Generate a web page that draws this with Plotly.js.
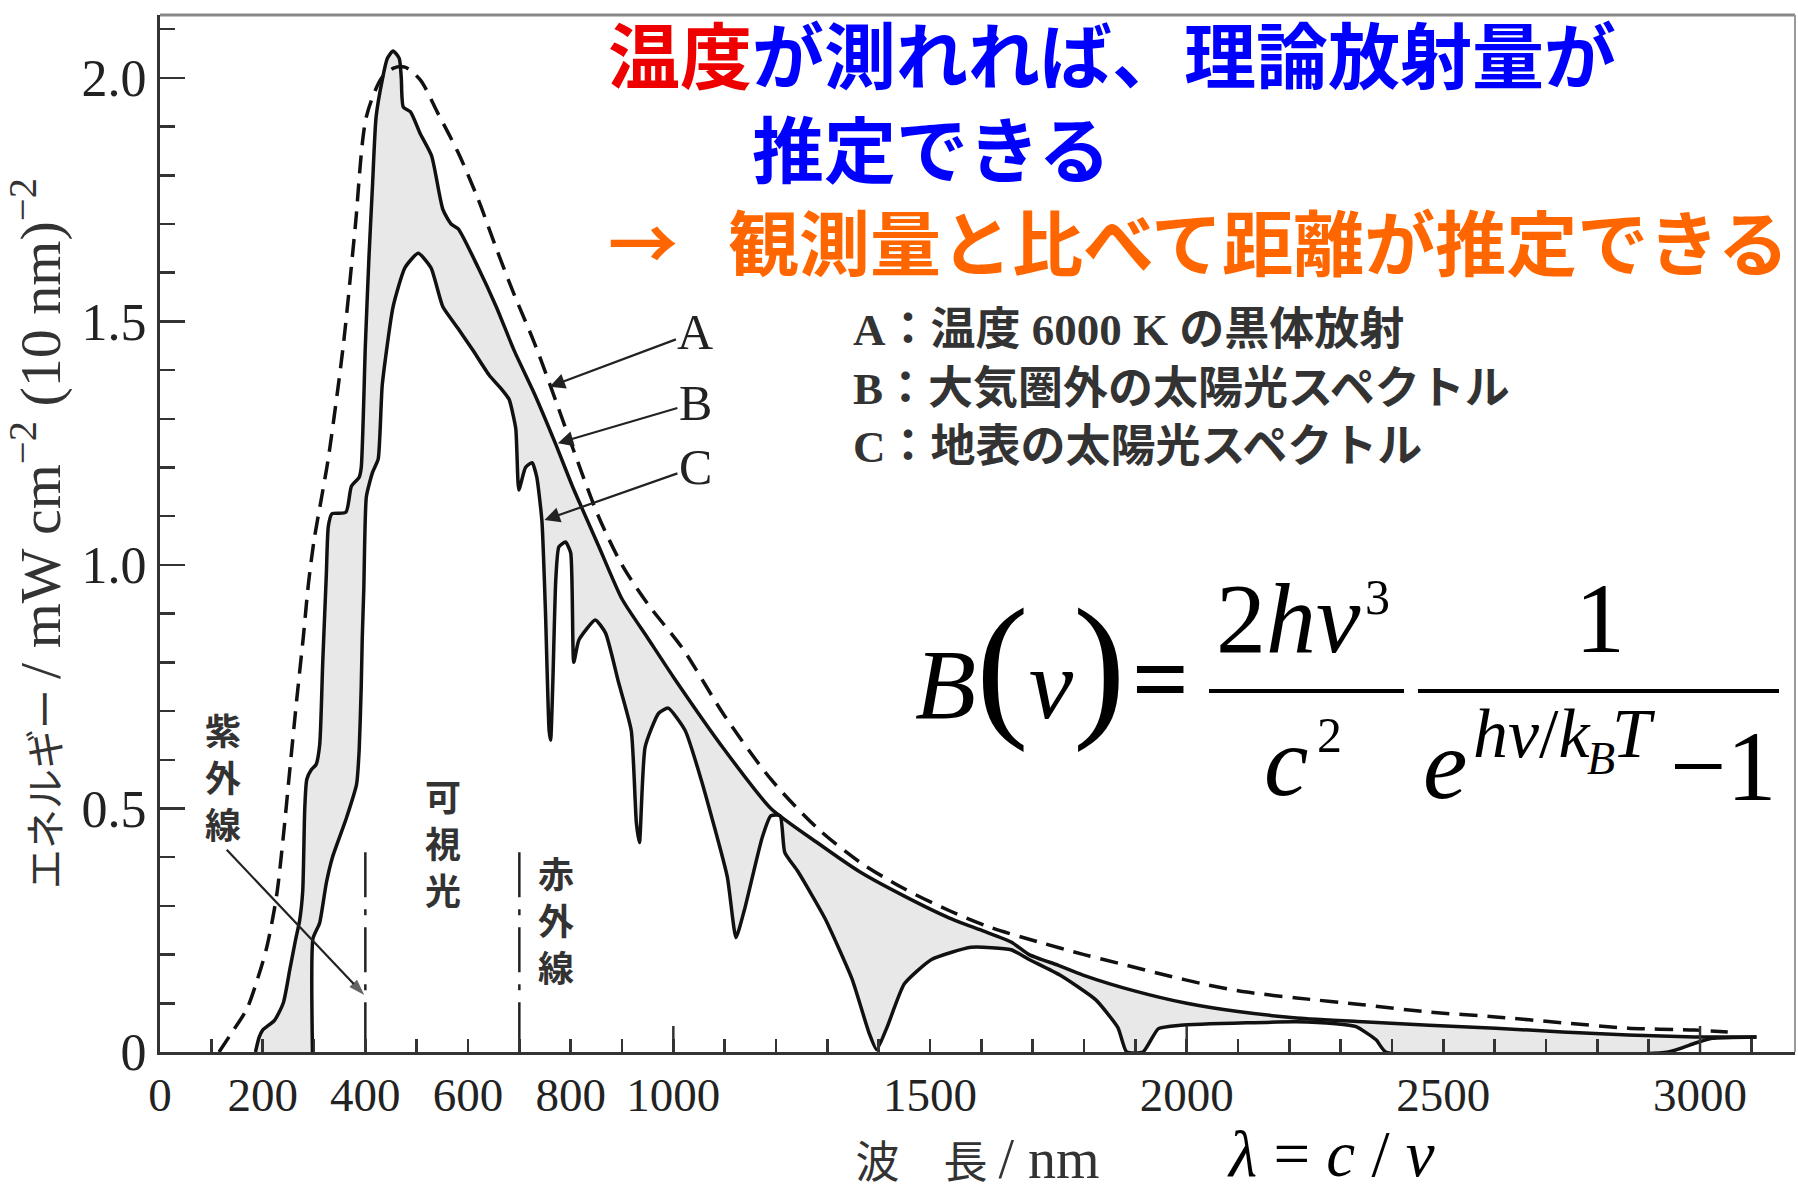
<!DOCTYPE html>
<html><head><meta charset="utf-8">
<script src="https://cdn.plot.ly/plotly-3.0.1.min.js"></script>
<style>html,body{margin:0;padding:0;background:#fff;}#chart{width:1798px;height:1191px;}</style>
</head><body><div id="chart"></div>
<script>
// ---- data ----
// A: 6000 K black body (dashed)
const wlA  = [115,140,169,190,208,227,240,252,266,279,289,300,315,328,357,380,402,432,455,477,507,540,581,620,655,690,730,770,804,854,900,950,1017,1100,1190,1280,1363,1450,1538,1620,1711,1800,1883,1950,2040,2117,2214,2343,2472,2602,2732,2860,2990,3054];
const valA = [0,0.04,0.088,0.15,0.215,0.32,0.44,0.57,0.72,0.85,0.96,1.05,1.14,1.22,1.45,1.69,1.92,2.0,2.02,2.022,1.996,1.93,1.846,1.75,1.65,1.555,1.454,1.34,1.24,1.10,1.0,0.92,0.83,0.69,0.56,0.46,0.39,0.335,0.29,0.255,0.226,0.20,0.178,0.16,0.138,0.123,0.111,0.097,0.082,0.072,0.06,0.049,0.045,0.041];
// B: solar spectrum outside the atmosphere (upper solid)
const wlB  = [186,193,200,223,240,253,264,272,278,282,286,295,304,311,317,324,328,335,362,373,388,392,400,407,414,421,433,443,454,466,470,474,488,507,529,551,567,581,620,655,690,730,770,804,854,900,950,1000,1100,1190,1280,1363,1450,1538,1600,1658,1693,1750,1798,1900,2000,2100,2214,2343,2472,2602,2732,2860,2990,3110];
const valB = [0,0.03,0.045,0.065,0.1,0.17,0.23,0.27,0.33,0.5,0.56,0.58,0.59,0.63,0.8,0.98,1.08,1.105,1.108,1.162,1.18,1.2,1.45,1.63,1.78,1.92,1.996,2.04,2.055,2.04,2.0,1.94,1.93,1.885,1.84,1.73,1.70,1.69,1.61,1.53,1.44,1.35,1.25,1.16,1.04,0.93,0.85,0.77,0.62,0.50,0.43,0.37,0.32,0.275,0.25,0.226,0.20,0.178,0.158,0.125,0.10,0.083,0.07,0.062,0.055,0.049,0.041,0.035,0.031,0.031];
// C: solar spectrum at ground level (lower solid)
const wlC  = [297,298,311,324,336,363,383,388,392,394,397,402,414,425,433,454,477,503,528,551,581,610,641,666,680,693,699,712,725,734,744,751,758,761,765,771,777,790,800,806,816,848,868,893,918,928,934,945,971,990,1023,1054,1105,1122,1138,1173,1190,1208,1217,1243,1295,1348,1381,1396,1416,1450,1503,1580,1658,1693,1753,1823,1866,1883,1915,1945,1988,2117,2214,2290,2330,2369,2388,2938,2990,3023,3110];
const valC = [0,0.233,0.265,0.347,0.40,0.48,0.55,0.62,0.75,0.85,0.95,1.14,1.19,1.217,1.37,1.53,1.61,1.64,1.61,1.53,1.485,1.44,1.39,1.36,1.34,1.28,1.154,1.20,1.21,1.18,1.09,0.90,0.66,0.64,0.75,0.97,1.037,1.047,1.025,0.80,0.846,0.887,0.86,0.76,0.66,0.47,0.43,0.626,0.695,0.706,0.66,0.56,0.36,0.235,0.29,0.44,0.485,0.485,0.41,0.37,0.275,0.15,0.04,0.005,0.05,0.14,0.19,0.215,0.21,0.19,0.158,0.107,0.05,0,0,0.048,0.055,0.06,0.062,0.058,0.052,0.025,0,0,0.018,0.028,0.031];

const xTickVals = [0,200,400,600,800,1000,1500,2000,2500,3000];
const xTickText = ['0','200','400','600','800','1000','1500','2000','2500','3000'];
const longTickVals = [1000,2000,3000];
const yTickVals = [0,0.5,1.0,1.5,2.0];
const yTickText = ['0','0.5','1.0','1.5','2.0'];

const bandBounds = [400,700];          // nm, UV/visible and visible/IR limits
const bandLineY  = [0.01,0.41];
const bandNames  = ['紫外線','可視光','赤外線'];
const bandNameX  = [122,551,771];
const bandNameY  = [0.558,0.423,0.264];
const uvArrowX = [130,398], uvArrowY = [0.415,0.117];

const curveLetters = ['A','B','C'];
const letterPos  = [[1043,1.478],[1043,1.333],[1043,1.201]];
const arrowHeads = [[759,1.366],[775,1.25],[749,1.092]];

const legendLines = ['A：温度 6000 K の黒体放射','B：大気圏外の太陽光スペクトル','C：地表の太陽光スペクトル'];
const headline = [
  '<span style="color:#ee0000">温度</span><span style="color:#0000ff">が測れれば、理論放射量が</span>',
  '<span style="color:#0000ff">　　推定できる</span>',
  '<span style="color:#ff6600;font-size:70px;font-family:\'Noto Sans CJK JP\'">→</span><span style="font-size:50px">　</span><span style="color:#ff6600;font-size:71px">観測量と比べて距離が推定できる</span>'
];

// ---- layout helpers (pixel -> paper) ----
const L=160, R=1795, T=15, BOT=1052;
const PW=R-L, PH=BOT-T;
const px = X => (X-L)/PW, py = Y => (BOT-Y)/PH;
const SERIF = 'Liberation Serif, "Times New Roman", serif';
const MIX = 'Liberation Serif, "Noto Sans CJK JP", serif';
const big = s => '<span style="font-size:' + s + 'px">';

const traces = [
  {x:wlC, y:valC, type:'scatter', mode:'lines', line:{color:'#111', width:3.5, shape:'spline', smoothing:0.5}, hoverinfo:'skip', showlegend:false},
  {x:wlB, y:valB, type:'scatter', mode:'lines', line:{color:'#111', width:3.5, shape:'spline', smoothing:0.6}, fill:'tonexty', fillcolor:'#e8e8e8', hoverinfo:'skip', showlegend:false},
  {x:wlA, y:valA, type:'scatter', mode:'lines', line:{color:'#111', width:3.5, dash:'18px,10px', shape:'spline', smoothing:0.8}, hoverinfo:'skip', showlegend:false}
];
bandBounds.forEach(b => traces.push({x:[b,b], y:bandLineY, type:'scatter', mode:'lines', line:{color:'#222', width:2.5, dash:'45px,12px,6px,12px'}, hoverinfo:'skip', showlegend:false}));
// arrow from the 紫外線 label to the 400 nm boundary
traces.push({x:uvArrowX, y:uvArrowY, type:'scatter', mode:'lines+markers', line:{color:'#222', width:2.2},
  marker:{symbol:['circle','arrow'], size:[0,17], angleref:'previous', color:'#222', line:{width:0}}, hoverinfo:'skip', showlegend:false});

const ann = [];
// headline text (three lines)
ann.push({xref:'paper', yref:'paper', x:px(606), y:py(155), xanchor:'left', yanchor:'middle', align:'left', showarrow:false,
  text:headline.join('<br>'), font:{family:MIX, size:72, weight:700}});
// legend block
ann.push({xref:'paper', yref:'paper', x:px(851), y:py(389), xanchor:'left', yanchor:'middle', align:'left', showarrow:false,
  text:legendLines.join('<br>'), font:{family:MIX, size:45, color:'#333', weight:700}});
// curve letters with arrows
curveLetters.forEach((c,i) => ann.push({x:arrowHeads[i][0], y:arrowHeads[i][1], ax:letterPos[i][0], ay:letterPos[i][1], axref:'x', ayref:'y',
  text:c, showarrow:true, arrowhead:2, arrowsize:1.4, arrowwidth:2.2, arrowcolor:'#222', standoff:0, font:{family:SERIF, size:50, color:'#222'}}));
// band labels (vertical)
bandNames.forEach((n,i) => ann.push({x:bandNameX[i], y:bandNameY[i], showarrow:false,
  text:[...n].join('<br>'), font:{family:MIX, size:36, color:'#333', weight:700}}));
// formula  B(ν) = 2hν³/c² · 1/(e^{hν/k_BT} − 1)
const f = (t, X, base, s, anchor, boxSize) => ann.push({xref:'paper', yref:'paper', x:px(X), y:py(base-0.3375*(boxSize||s)), xanchor:anchor||'center', yanchor:'middle',
  showarrow:false, text:t, font:{family:SERIF, size:s, color:'#000'}});
f('<i>B</i>' + big(158) + '(</span><i>ν</i>' + big(158) + ')</span>', 1020, 718, 100, 'center', 158);
f('<b>=</b>', 1160, 713, 100);
f('2<i>hν</i>', 1288, 652, 100);
f('3', 1377, 614, 50);
f('<i>c</i>', 1286, 795, 100);
f('2', 1329, 752, 50);
f('1', 1600, 652, 100);
f('<i>e</i>', 1445, 798, 100);
f('<i>hν</i>/<i>k</i>', 1471, 757, 70, 'left');
f('<i>B</i>', 1601, 774, 46);
f('<i>T</i>', 1634, 757, 70);
f('−1', 1723, 800, 100);
f('<i>λ</i> = <i>c</i> / <i>ν</i>', 1331, 1176, 65);

const shapes = [
  {type:'line', xref:'paper', yref:'paper', x0:0, x1:1, y0:1, y1:1, line:{color:'#888', width:3}},
  {type:'line', xref:'paper', yref:'paper', x0:1, x1:1, y0:0, y1:1, line:{color:'#999', width:2}},
  {type:'line', xref:'paper', yref:'paper', x0:px(1209), x1:px(1404), y0:py(691), y1:py(691), line:{color:'#000', width:4}},
  {type:'line', xref:'paper', yref:'paper', x0:px(1418), x1:px(1779), y0:py(691), y1:py(691), line:{color:'#000', width:4}}
];
// longer ticks at every 1000 nm
longTickVals.forEach(v => shapes.push({type:'line', xref:'x', yref:'paper', x0:v, x1:v, y0:0, y1:26/PH, line:{color:'#333', width:2.5}}));

const xr = [0,3185], yr = [0,2.129];
const layout = {
  width:1798, height:1191, margin:{l:L, r:1798-R, t:T, b:1191-BOT},
  paper_bgcolor:'#fff', plot_bgcolor:'#fff', showlegend:false,
  xaxis:{range:xr, tickmode:'array', tickvals:xTickVals, ticktext:xTickText, ticks:'inside', ticklen:13, tickwidth:2.5, tickcolor:'#333',
    showline:true, linecolor:'#333', linewidth:3, showgrid:false, zeroline:false, automargin:false,
    tickfont:{family:SERIF, size:47, color:'#222'},
    minor:{tickmode:'linear', tick0:0, dtick:100, ticks:'inside', ticklen:13, tickwidth:2.5, tickcolor:'#333', showgrid:false},
    title:{text:'波　長 ' + big(56) + '/ nm</span>', font:{family:MIX, size:44, color:'#333'}, standoff:27}},
  yaxis:{range:yr, tickmode:'array', tickvals:yTickVals, ticktext:yTickText, ticks:'inside', ticklen:25, tickwidth:2.5, tickcolor:'#333',
    showline:true, linecolor:'#333', linewidth:3, showgrid:false, zeroline:false, automargin:false,
    tickfont:{family:SERIF, size:52, color:'#222'},
    minor:{tickmode:'linear', tick0:0, dtick:0.1, ticks:'inside', ticklen:15, tickwidth:2.5, tickcolor:'#333', showgrid:false},
    title:{text:'エネルギー ' + big(58) + '/ mW cm<sup>−2</sup> (10 nm)<sup>−2</sup></span>', font:{family:MIX, size:40, color:'#333'}, standoff:14}},
  annotations:ann, shapes:shapes
};
Plotly.newPlot('chart', traces, layout, {displayModeBar:false, staticPlot:true});
</script></body></html>
